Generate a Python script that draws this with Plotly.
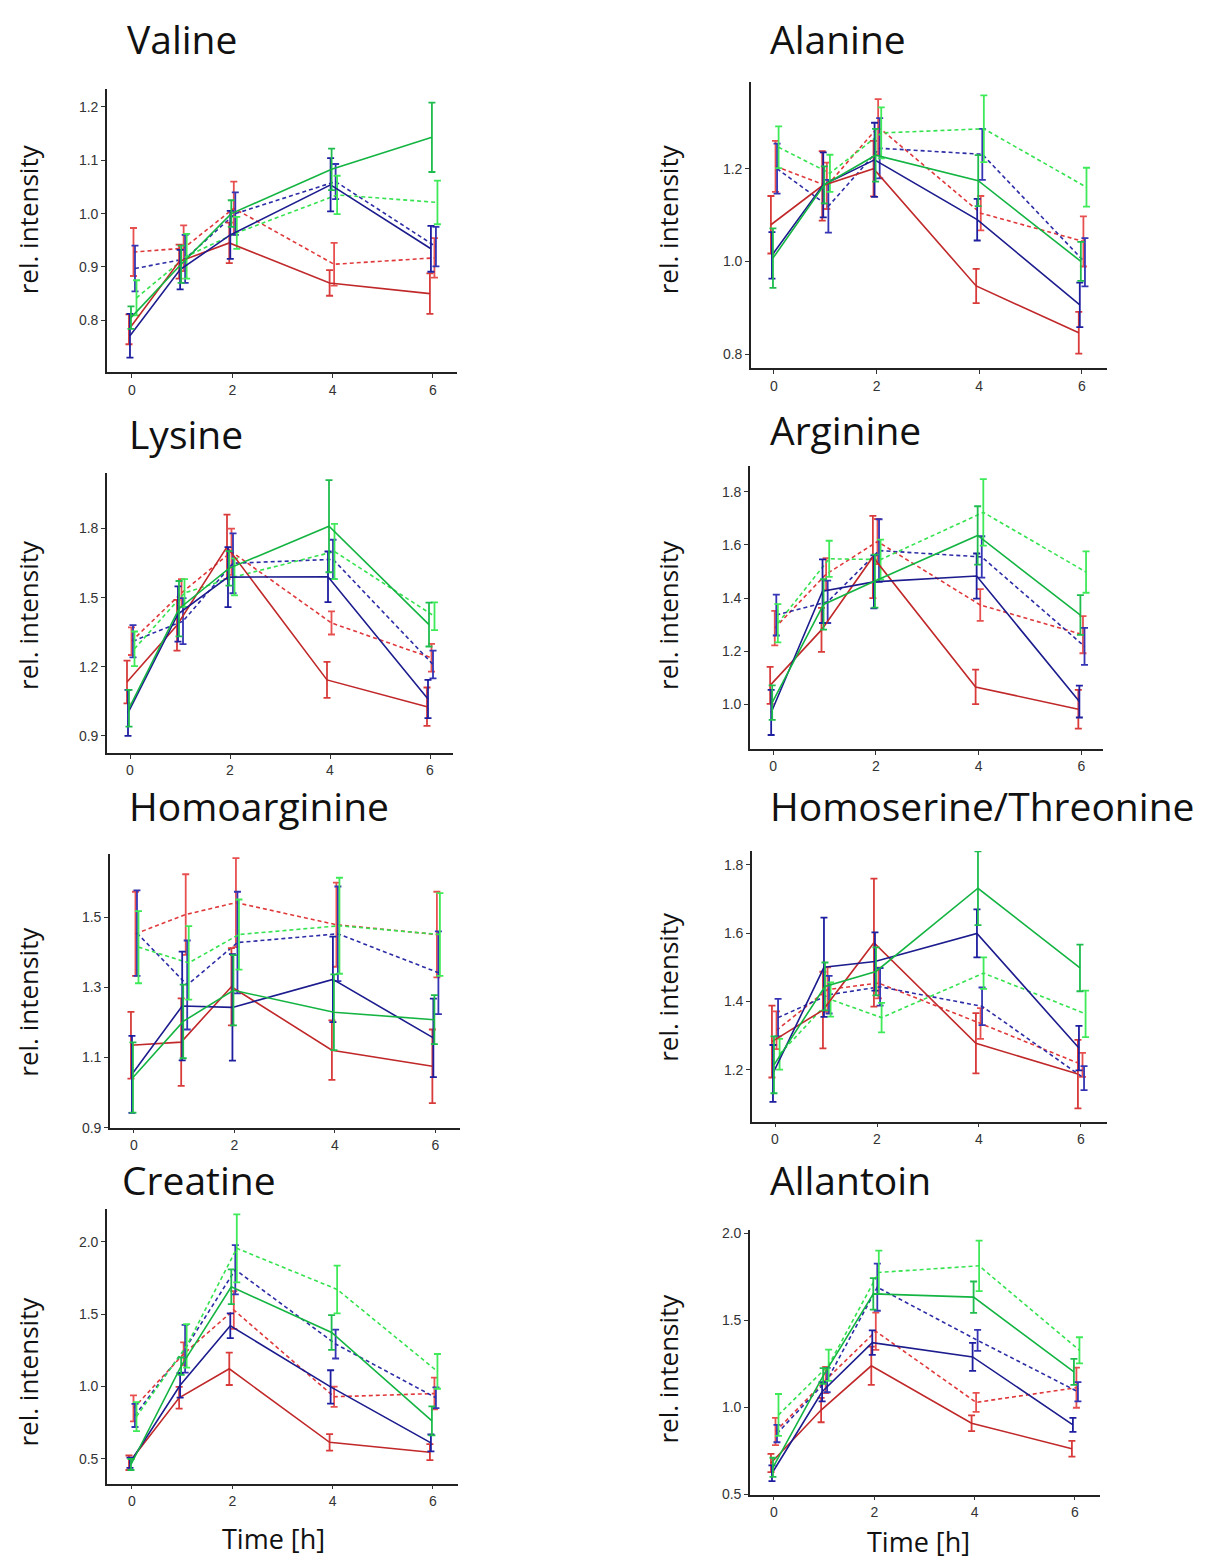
import plotly.graph_objects as go

# ---------------- data ----------------
times = [0, 1, 2, 4, 6]
panels = ["Valine", "Alanine", "Lysine", "Arginine", "Homoarginine",
          "Homoserine/Threonine", "Creatine", "Allantoin"]
series_names = ["red solid", "blue solid", "green solid", "red dotted", "blue dotted", "green dotted"]

# mean values per panel, per series (order as series_names)
valine_mean = [[0.783, 0.91, 0.945, 0.87, 0.85], [0.771, 0.895, 0.96, 1.054, 0.934], [0.805, 0.905, 1.0, 1.083, 1.143],
               [0.928, 0.935, 1.01, 0.905, 0.917], [0.897, 0.915, 1.0, 1.06, 0.938], [0.842, 0.92, 0.964, 1.035, 1.021]]
valine_err = [[0.028, 0.032, 0.038, 0.024, 0.038], [0.041, 0.037, 0.045, 0.05, 0.043], [0.021, 0.035, 0.025, 0.039, 0.065],
              [0.045, 0.043, 0.05, 0.04, 0.037], [0.043, 0.045, 0.04, 0.033, 0.037], [0.033, 0.042, 0.03, 0.036, 0.041]]

alanine_mean = [[1.079, 1.163, 1.2, 0.947, 0.846], [1.013, 1.165, 1.219, 1.09, 0.906], [1.007, 1.165, 1.229, 1.174, 1.0],
                [1.205, 1.163, 1.29, 1.104, 1.043], [1.2, 1.119, 1.244, 1.231, 0.998], [1.246, 1.19, 1.277, 1.286, 1.16]]
alanine_err = [[0.062, 0.075, 0.06, 0.037, 0.045], [0.05, 0.07, 0.08, 0.045, 0.048], [0.064, 0.04, 0.057, 0.055, 0.042],
               [0.055, 0.05, 0.06, 0.037, 0.054], [0.054, 0.057, 0.065, 0.055, 0.052], [0.045, 0.04, 0.055, 0.072, 0.042]]

lysine_mean = [[1.134, 1.38, 1.72, 1.143, 1.027], [1.0, 1.429, 1.589, 1.59, 1.06], [1.02, 1.452, 1.627, 1.81, 1.383],
               [1.311, 1.52, 1.699, 1.39, 1.239], [1.311, 1.398, 1.649, 1.666, 1.21], [1.278, 1.52, 1.59, 1.7, 1.419]]
lysine_err = [[0.093, 0.11, 0.14, 0.078, 0.083], [0.1, 0.12, 0.13, 0.11, 0.083], [0.08, 0.12, 0.075, 0.2, 0.095],
              [0.06, 0.06, 0.1, 0.05, 0.06], [0.07, 0.1, 0.13, 0.085, 0.06], [0.075, 0.06, 0.08, 0.12, 0.06]]

arginine_mean = [[1.071, 1.28, 1.555, 1.065, 0.981], [0.969, 1.426, 1.461, 1.483, 1.01], [1.006, 1.376, 1.464, 1.636, 1.336],
                 [1.287, 1.49, 1.613, 1.374, 1.262], [1.336, 1.386, 1.579, 1.555, 1.218], [1.305, 1.548, 1.545, 1.723, 1.498]]
arginine_err = [[0.07, 0.083, 0.155, 0.065, 0.073], [0.085, 0.12, 0.1, 0.085, 0.06], [0.065, 0.095, 0.1, 0.11, 0.075],
                [0.065, 0.06, 0.085, 0.06, 0.07], [0.077, 0.08, 0.118, 0.078, 0.07], [0.072, 0.068, 0.075, 0.125, 0.078]]

homoarginine_mean = [[1.135, 1.144, 1.302, 1.121, 1.075], [1.052, 1.247, 1.243, 1.323, 1.156], [1.043, 1.203, 1.292, 1.229, 1.208],
                     [1.453, 1.508, 1.542, 1.479, 1.451], [1.455, 1.307, 1.428, 1.453, 1.342], [1.415, 1.37, 1.451, 1.476, 1.451]]
homoarginine_err = [[0.095, 0.125, 0.11, 0.085, 0.105], [0.11, 0.155, 0.152, 0.122, 0.112], [0.1, 0.105, 0.1, 0.108, 0.07],
                    [0.12, 0.115, 0.127, 0.12, 0.122], [0.122, 0.127, 0.145, 0.135, 0.118], [0.103, 0.105, 0.1, 0.137, 0.118]]

homoserine_mean = [[1.283, 1.375, 1.572, 1.278, 1.188], [1.19, 1.5, 1.517, 1.599, 1.264], [1.215, 1.444, 1.488, 1.731, 1.498],
                   [1.316, 1.435, 1.454, 1.336, 1.215], [1.353, 1.42, 1.443, 1.386, 1.176], [1.246, 1.406, 1.353, 1.483, 1.364]]
homoserine_err = [[0.105, 0.112, 0.187, 0.088, 0.1], [0.083, 0.145, 0.085, 0.07, 0.065], [0.083, 0.07, 0.07, 0.108, 0.068],
                  [0.055, 0.065, 0.045, 0.045, 0.035], [0.055, 0.055, 0.055, 0.055, 0.035], [0.045, 0.05, 0.043, 0.046, 0.068]]

creatine_mean = [[0.473, 0.922, 1.122, 0.614, 0.546], [0.473, 1.008, 1.419, 0.997, 0.61], [0.461, 1.14, 1.688, 1.373, 0.762],
                 [0.849, 1.225, 1.528, 0.929, 0.951], [0.8, 1.26, 1.806, 1.293, 0.922], [0.792, 1.28, 1.954, 1.67, 1.104]]
creatine_err = [[0.05, 0.075, 0.112, 0.057, 0.055], [0.035, 0.085, 0.085, 0.115, 0.058], [0.038, 0.06, 0.12, 0.12, 0.1],
                [0.09, 0.08, 0.13, 0.07, 0.11], [0.08, 0.165, 0.17, 0.1, 0.072], [0.1, 0.15, 0.235, 0.165, 0.12]]

allantoin_mean = [[0.681, 0.985, 1.239, 0.909, 0.763], [0.622, 1.09, 1.372, 1.29, 0.9], [0.656, 1.181, 1.652, 1.633, 1.204],
                  [0.862, 1.157, 1.437, 1.029, 1.113], [0.85, 1.157, 1.69, 1.385, 1.09], [0.957, 1.242, 1.775, 1.813, 1.328]]
allantoin_err = [[0.052, 0.07, 0.11, 0.045, 0.045], [0.045, 0.055, 0.07, 0.08, 0.04], [0.055, 0.045, 0.09, 0.09, 0.075],
                 [0.078, 0.075, 0.107, 0.055, 0.115], [0.05, 0.07, 0.135, 0.06, 0.055], [0.12, 0.09, 0.125, 0.145, 0.075]]

y_ticks = [[0.8, 0.9, 1.0, 1.1, 1.2], [0.8, 1.0, 1.2], [0.9, 1.2, 1.5, 1.8], [1.0, 1.2, 1.4, 1.6, 1.8],
           [0.9, 1.1, 1.3, 1.5], [1.2, 1.4, 1.6, 1.8], [0.5, 1.0, 1.5, 2.0], [0.5, 1.0, 1.5, 2.0]]
x_ticks = [0, 2, 4, 6]

# ---------------- styles / layout ----------------
PAGE_W, PAGE_H = 1205, 1564
OFF = 8  # default page margin of the html body
W, H = PAGE_W - OFF, PAGE_H - OFF

means = [valine_mean, alanine_mean, lysine_mean, arginine_mean, homoarginine_mean,
         homoserine_mean, creatine_mean, allantoin_mean]
errs = [valine_err, alanine_err, lysine_err, arginine_err, homoarginine_err,
        homoserine_err, creatine_err, allantoin_err]

colors = ["#C0282A", "#1C1C8E", "#14B442", "#E0393B", "#2C2CA6", "#35E24F"]
err_colors = ["#D93B3B", "#1E1EA0", "#1FBD4E", "#E85050", "#3434B4", "#3EEA58"]
dashes = ["solid", "solid", "solid", "4px,3px", "4px,3px", "4px,3px"]
dodge = [-0.06, -0.04, -0.02, 0.03, 0.06, 0.09]
draw_order = [3, 4, 5, 0, 1, 2]

# plot-area pixel boxes in the page: (left, right, top, bottom)
boxes = [(107, 457, 85, 370), (751, 1107, 78, 366), (107, 453, 472, 754), (750, 1103, 465, 750),
         (110, 460, 856, 1132), (752, 1107, 853, 1126), (107, 458, 1214, 1491), (750, 1100, 1235, 1502)]
x_ranges = [[-0.498, 6.48], [-0.448, 6.49], [-0.46, 6.46], [-0.452, 6.42],
            [-0.477, 6.49], [-0.451, 6.51], [-0.498, 6.5], [-0.478, 6.5]]
y_ranges = [[0.703, 1.233], [0.77, 1.386], [0.827, 2.04], [0.832, 1.897],
            [0.9, 1.681], [1.049, 1.84], [0.329, 2.226], [0.5, 2.02]]
title_pos = [(125, 34), (768, 34), (127, 432), (768, 428), (127, 807), (768, 807), (120, 1184), (768, 1184)]
ylab_pos = [(28, 216), (668, 216), (28, 615), (668, 615), (28, 1005), (668, 990), (28, 1378), (668, 1375)]
xlab_pos = [(273, 1546), (918, 1549)]


def fx(px):
    return (px - OFF) / W


def fy(py):
    return 1 - (py - OFF) / H


fig = go.Figure()
layout = dict(width=W, height=H, margin=dict(l=0, r=0, t=0, b=0),
              paper_bgcolor="white", plot_bgcolor="white", showlegend=False)
annotations = []

for p in range(len(panels)):
    ax = "" if p == 0 else str(p + 1)
    L, R, T, B = boxes[p]
    common = dict(showline=True, linecolor="#222222", linewidth=1.6, showgrid=False, zeroline=False,
                  ticks="outside", ticklen=4, tickcolor="#333333", tickwidth=1,
                  tickfont=dict(family="Liberation Sans, Arial", size=14, color="#333333"))
    layout["xaxis" + ax] = dict(domain=[fx(L), fx(R)], range=x_ranges[p], anchor="y" + ax,
                                tickvals=x_ticks, ticktext=[str(t) for t in x_ticks], **common)
    layout["yaxis" + ax] = dict(domain=[fy(B), fy(T)], range=y_ranges[p], anchor="x" + ax,
                                tickvals=y_ticks[p], ticktext=["%.1f" % v for v in y_ticks[p]], **common)
    for s in draw_order:
        fig.add_trace(go.Scatter(
            x=[t + dodge[s] for t in times], y=means[p][s], mode="lines",
            name=series_names[s],
            line=dict(color=colors[s], width=1.6, dash=dashes[s]),
            error_y=dict(type="data", array=errs[p][s], visible=True,
                         color=err_colors[s], thickness=1.8, width=3.5),
            xaxis="x" + ax, yaxis="y" + ax))
    tx, ty = title_pos[p]
    annotations.append(dict(text=panels[p], x=fx(tx), y=fy(ty), xref="paper", yref="paper",
                            xanchor="left", yanchor="middle", showarrow=False,
                            font=dict(family="Open Sans", size=39, color="#111111")))
    lx, ly = ylab_pos[p]
    annotations.append(dict(text="rel. intensity", x=fx(lx), y=fy(ly), xref="paper", yref="paper",
                            xanchor="center", yanchor="middle", showarrow=False, textangle=-90,
                            font=dict(family="Open Sans", size=26, color="#111111")))

for (lx, ly) in xlab_pos:
    annotations.append(dict(text="Time [h]", x=fx(lx), y=fy(ly), xref="paper", yref="paper",
                            xanchor="center", yanchor="middle", showarrow=False,
                            font=dict(family="Open Sans", size=27, color="#111111")))

layout["annotations"] = annotations
fig.update_layout(**layout)
fig.write_html("out.html")
